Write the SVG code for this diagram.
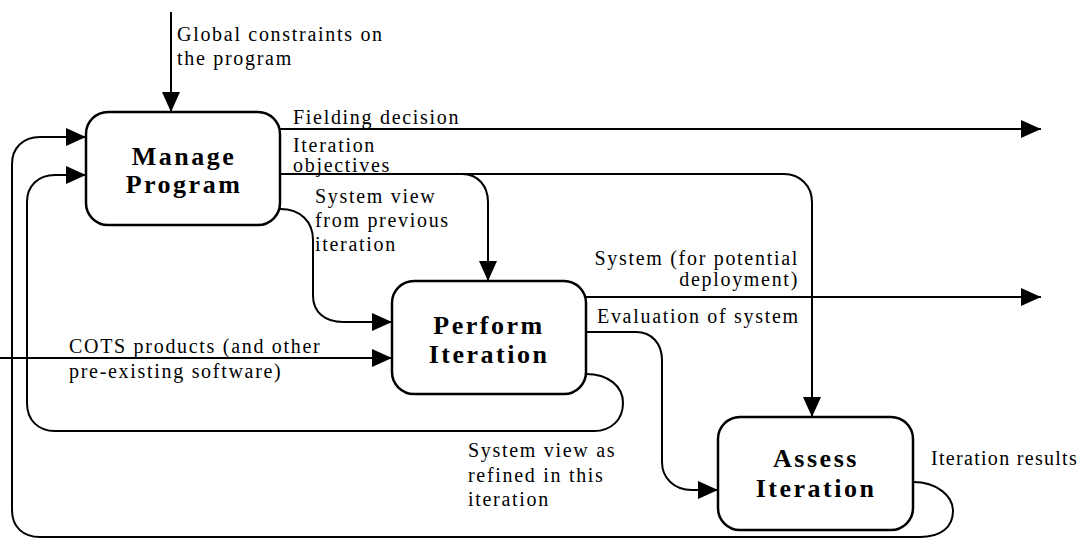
<svg xmlns="http://www.w3.org/2000/svg" width="1080" height="539" viewBox="0 0 1080 539">
<style>
.bg{fill:#ffffff}
.box{fill:#ffffff;stroke:#000;stroke-width:2.5}
.c{fill:none;stroke:#000;stroke-width:2}
.lbl{font-family:"Liberation Serif","Times New Roman",serif;font-size:20px;fill:#000;letter-spacing:1.7px}
.ttl{font-family:"Liberation Serif","Times New Roman",serif;font-size:26px;font-weight:bold;fill:#000;letter-spacing:2.5px;text-anchor:middle}
</style>
<defs>
<marker id="ah" markerUnits="userSpaceOnUse" markerWidth="20" markerHeight="19" refX="20" refY="9" orient="auto">
<path d="M0,0 L20,9 L0,18 z" fill="#000"/>
</marker>
</defs>
<rect class="bg" x="0" y="0" width="1080" height="539"/>
<g id="connectors">
<path class="c" d="M171,12 L171,112" marker-end="url(#ah)"/>
<path class="c" d="M280,129 L1041,129" marker-end="url(#ah)"/>
<path class="c" d="M280,174 L784,174 C800,174 812,186 812,202 L812,417" marker-end="url(#ah)"/>
<path class="c" d="M462,174 C478,174 488,186 488,202 L488,281" marker-end="url(#ah)"/>
<path class="c" d="M280,209 C301,209 313,222 313,240 L313,296 C313,312 325,322 343,322 L392,322" marker-end="url(#ah)"/>
<path class="c" d="M0,358 L392,358" marker-end="url(#ah)"/>
<path class="c" d="M586,297 L1041,297" marker-end="url(#ah)"/>
<path class="c" d="M586,332 L636,332 C652,332 662,344 662,360 L662,462 C662,478 674,490 692,490 L718,490" marker-end="url(#ah)"/>
<path class="c" d="M586,374 C608,374 623,386 623,403 C623,420 611,431 594,431 L55,431 C38,431 27,420 27,403 L27,202 C27,186 38,175 55,175 L86,175" marker-end="url(#ah)"/>
<path class="c" d="M913,482 C937,482 953,496 953,511 C953,527 941,537 920,537 L40,537 C23,537 12,527 12,510 L12,164 C12,148 23,137 40,137 L86,137" marker-end="url(#ah)"/>
</g>
<g id="labels">
<text class="lbl" x="177" y="41">Global constraints on</text>
<text class="lbl" x="177" y="65">the program</text>
<text class="lbl" x="293" y="124">Fielding decision</text>
<text class="lbl" x="293" y="152">Iteration</text>
<text class="lbl" x="293" y="172">objectives</text>
<text class="lbl" x="315" y="203">System view</text>
<text class="lbl" x="315" y="227">from previous</text>
<text class="lbl" x="315" y="251">iteration</text>
<text class="lbl" x="799" y="265" text-anchor="end">System (for potential</text>
<text class="lbl" x="799" y="286" text-anchor="end">deployment)</text>
<text class="lbl" x="597" y="323">Evaluation of system</text>
<text class="lbl" x="69" y="353">COTS products (and other</text>
<text class="lbl" x="69" y="378">pre-existing software)</text>
<text class="lbl" x="468" y="457">System view as</text>
<text class="lbl" x="468" y="482">refined in this</text>
<text class="lbl" x="468" y="506">iteration</text>
<text class="lbl" x="931" y="465" style="letter-spacing:1.3px">Iteration results</text>
</g>
<g id="manage-program">
<rect class="box" x="86" y="112" width="194" height="113" rx="22" ry="22"/>
<text class="ttl" x="184" y="165">Manage</text>
<text class="ttl" x="184" y="193">Program</text>
</g>
<g id="perform-iteration">
<rect class="box" x="392" y="281" width="194" height="113" rx="22" ry="22"/>
<text class="ttl" x="489" y="334">Perform</text>
<text class="ttl" x="489" y="363">Iteration</text>
</g>
<g id="assess-iteration">
<rect class="box" x="718" y="417" width="195" height="113" rx="22" ry="22"/>
<text class="ttl" x="816" y="467">Assess</text>
<text class="ttl" x="816" y="497">Iteration</text>
</g>
</svg>
